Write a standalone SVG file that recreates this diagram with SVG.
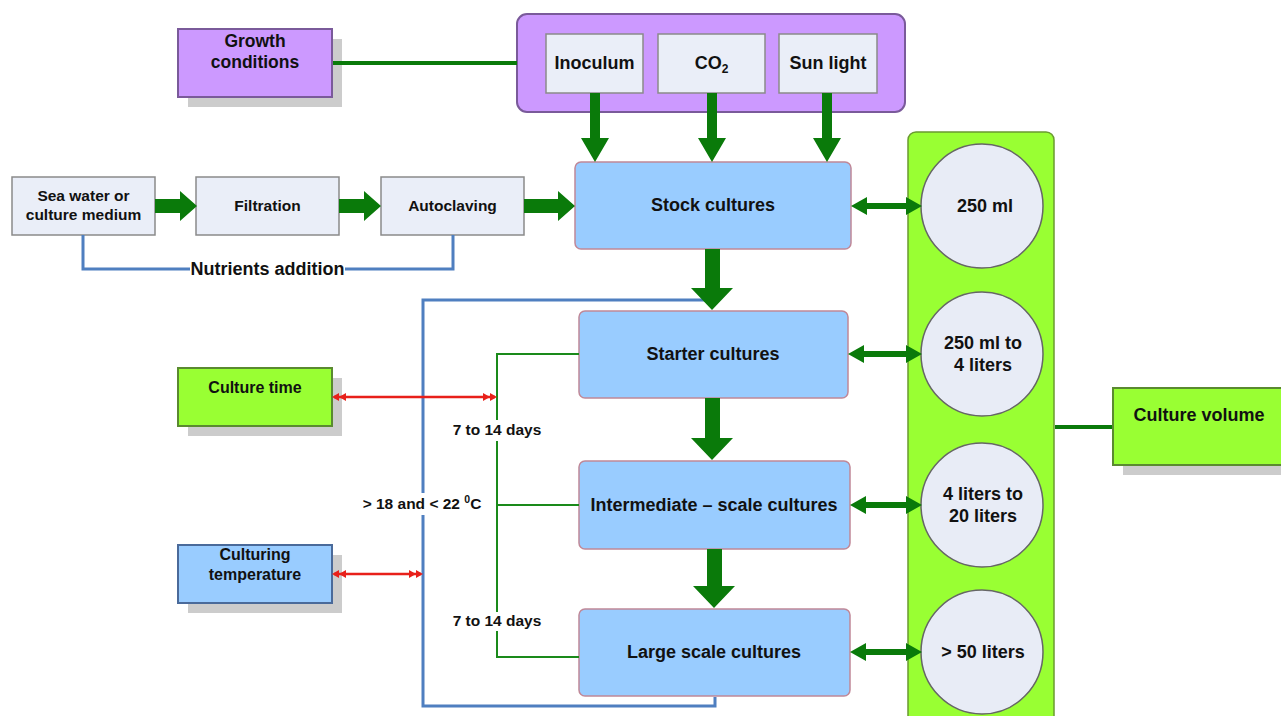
<svg xmlns="http://www.w3.org/2000/svg" width="1281" height="716" viewBox="0 0 1281 716">
<defs>
<style>
text{font-family:"Liberation Sans",Arial,sans-serif;font-weight:bold;fill:#111;text-anchor:middle}
.shadow{fill:#cccccc}
.purple{fill:#cc99ff;stroke:#7a5a9a;stroke-width:2}
.lgreen{fill:#99ff33;stroke:#5a8a30;stroke-width:2}
.lblue{fill:#99ccff;stroke:#4a6a9a;stroke-width:2}
.pale{fill:#eaeef8;stroke:#8a8a8a;stroke-width:1.5}
.culture{fill:#99ccff;stroke:#c08898;stroke-width:1.5}
.circ{fill:#e8ecf6;stroke:#666;stroke-width:1.5}
.garrow{fill:#0a7a0a}
.gline{stroke:#0a7a0a;stroke-width:4;fill:none}
.thin{stroke:#1a8a1a;stroke-width:2;fill:none}
.bline{stroke:#4f7fc0;stroke-width:3;fill:none}
.red{stroke:#e8201a;stroke-width:2.5;fill:none}
.redh{fill:#e8201a}
</style>
</defs>

<g id="growth-conditions">
<rect class="shadow" x="188" y="39" width="154" height="68"/>
<rect class="purple" x="178" y="29" width="154" height="68"/>
<text x="255" y="47" font-size="17.5">Growth</text>
<text x="255" y="68" font-size="17.5">conditions</text>
</g>

<g id="growth-group">
<rect class="purple" x="517" y="14" width="388" height="98" rx="10"/>
</g>
<g id="inoculum">
<rect class="pale" x="546" y="34" width="97" height="59"/>
<text x="594.5" y="69" font-size="18">Inoculum</text>
</g>
<g id="co2">
<rect class="pale" x="658" y="34" width="107" height="59"/>
<text x="711.5" y="69" font-size="18">CO<tspan font-size="12" dy="4">2</tspan></text>
</g>
<g id="sunlight">
<rect class="pale" x="779" y="34" width="98" height="59"/>
<text x="828" y="69" font-size="18">Sun light</text>
</g>

<g id="seawater">
<rect class="pale" x="12" y="177" width="143" height="58"/>
<text x="83.5" y="201" font-size="15.5">Sea water or</text>
<text x="83.5" y="220" font-size="15.5">culture medium</text>
</g>
<g id="filtration">
<rect class="pale" x="196" y="177" width="143" height="58"/>
<text x="267.5" y="211" font-size="15.5">Filtration</text>
</g>
<g id="autoclaving">
<rect class="pale" x="381" y="177" width="143" height="58"/>
<text x="452.5" y="211" font-size="15.5">Autoclaving</text>
</g>

<g id="stock">
<rect class="culture" x="575" y="162" width="276" height="87" rx="6"/>
<text x="713" y="211" font-size="18">Stock cultures</text>
</g>
<g id="starter">
<rect class="culture" x="579" y="311" width="269" height="87" rx="6"/>
<text x="713" y="360" font-size="18">Starter cultures</text>
</g>
<g id="intermediate">
<rect class="culture" x="579" y="461" width="271" height="88" rx="6"/>
<text x="714" y="511" font-size="18">Intermediate – scale cultures</text>
</g>
<g id="large">
<rect class="culture" x="579" y="609" width="271" height="87" rx="6"/>
<text x="714" y="658" font-size="18">Large scale cultures</text>
</g>

<g id="culture-time">
<rect class="shadow" x="188" y="378" width="154" height="58"/>
<rect class="lgreen" x="178" y="368" width="154" height="58"/>
<text x="255" y="393" font-size="16">Culture time</text>
</g>
<g id="culturing-temperature">
<rect class="shadow" x="188" y="555" width="154" height="58"/>
<rect class="lblue" x="178" y="545" width="154" height="58"/>
<text x="255" y="560" font-size="16">Culturing</text>
<text x="255" y="580" font-size="16">temperature</text>
</g>

<g id="volume-group">
<rect x="908" y="132" width="146" height="600" rx="8" fill="#99ff33" stroke="#6a9a30" stroke-width="1.5"/>
</g>
<g id="vol-250">
<ellipse class="circ" cx="982" cy="206" rx="61" ry="62"/>
<text x="985" y="212" font-size="18">250 ml</text>
</g>
<g id="vol-250-4">
<ellipse class="circ" cx="982" cy="354" rx="61" ry="62"/>
<text x="983" y="349" font-size="18">250 ml to</text>
<text x="983" y="371" font-size="18">4 liters</text>
</g>
<g id="vol-4-20">
<ellipse class="circ" cx="982" cy="505" rx="61" ry="62"/>
<text x="983" y="500" font-size="18">4 liters to</text>
<text x="983" y="522" font-size="18">20 liters</text>
</g>
<g id="vol-50">
<ellipse class="circ" cx="982" cy="652" rx="61" ry="62"/>
<text x="983" y="658" font-size="18">&gt; 50 liters</text>
</g>

<g id="culture-volume">
<rect class="shadow" x="1123" y="398" width="170" height="77"/>
<rect class="lgreen" x="1113" y="388" width="180" height="77"/>
<text x="1199" y="421" font-size="18">Culture volume</text>
</g>

<g id="connectors">
<line class="gline" x1="333" y1="63" x2="517" y2="63"/>
<line class="gline" x1="1055" y1="427" x2="1112" y2="427"/>
<!-- top arrows -->
<polygon class="garrow" points="590,93 600,93 600,138 609,138 595,162 581,138 590,138"/>
<polygon class="garrow" points="707,93 717,93 717,138 726,138 712,162 698,138 707,138"/>
<polygon class="garrow" points="822,93 832,93 832,138 841,138 827,162 813,138 822,138"/>
<!-- row arrows -->
<polygon class="garrow" points="155,199 180,199 180,191 197,206 180,221 180,213 155,213"/>
<polygon class="garrow" points="339,199 364,199 364,191 381,206 364,221 364,213 339,213"/>
<polygon class="garrow" points="524,199 558,199 558,191 575,206 558,221 558,213 524,213"/>
<!-- nutrients -->
<path class="bline" d="M83,235 V269 H190"/>
<path class="bline" d="M345,269 H453 V235"/>
<!-- blue loop -->
<path class="bline" d="M706,300 H423 V493"/>
<path class="bline" d="M423,515 V706 H715 V697"/>
<!-- vertical culture arrows -->
<polygon class="garrow" points="705,249 720,249 720,288 733,288 712,310 691,288 705,288"/>
<polygon class="garrow" points="705,398 720,398 720,438 733,438 712,460 691,438 705,438"/>
<polygon class="garrow" points="707,549 722,549 722,586 735,586 714,608 693,586 707,586"/>
<!-- double arrows to circles -->
<polygon class="garrow" points="851,206 867,197 867,203 906,203 906,197 922,206 906,215 906,209 867,209 867,215"/>
<polygon class="garrow" points="848,354 864,345 864,351 906,351 906,345 922,354 906,363 906,357 864,357 864,363"/>
<polygon class="garrow" points="850,505 866,496 866,502 906,502 906,496 922,505 906,514 906,508 866,508 866,514"/>
<polygon class="garrow" points="850,652 866,643 866,649 906,649 906,643 922,652 906,661 906,655 866,655 866,661"/>
<!-- thin green bracket -->
<path class="thin" d="M579,354 H497 V420"/>
<path class="thin" d="M497,441 V612"/>
<path class="thin" d="M497,631 V657 H579"/>
<line class="thin" x1="497" y1="505" x2="579" y2="505"/>
<!-- red arrows -->
<line class="red" x1="334" y1="397" x2="495" y2="397"/>
<polygon class="redh" points="332,397 339,393 339,401"/>
<polygon class="redh" points="339,397 346,393 346,401"/>
<polygon class="redh" points="497,397 490,393 490,401"/>
<polygon class="redh" points="490,397 483,393 483,401"/>
<line class="red" x1="334" y1="574" x2="421" y2="574"/>
<polygon class="redh" points="332,574 339,570 339,578"/>
<polygon class="redh" points="339,574 346,570 346,578"/>
<polygon class="redh" points="423,574 416,570 416,578"/>
<polygon class="redh" points="416,574 409,570 409,578"/>
</g>

<g id="labels">
<text x="267.5" y="275" font-size="18">Nutrients addition</text>
<text x="497" y="435" font-size="15.5">7 to 14 days</text>
<text x="497" y="626" font-size="15.5">7 to 14 days</text>
<text x="422" y="509" font-size="15.5">&gt; 18 and &lt; 22 <tspan font-size="10.5" dy="-6">0</tspan><tspan dy="6">C</tspan></text>
</g>
</svg>
